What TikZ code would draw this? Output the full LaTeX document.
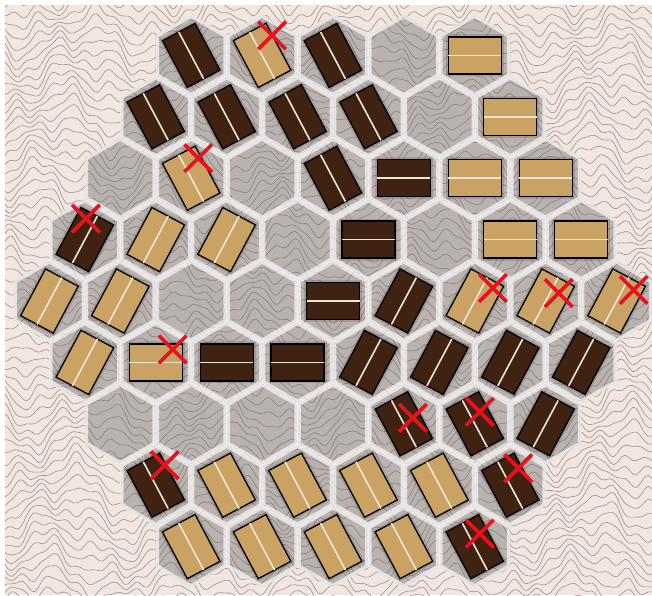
\documentclass[tikz,border=0pt]{standalone}
\usepackage{tikz}
\usetikzlibrary{shapes.geometric, shapes.misc, calc}
\definecolor{BoardPaper}{HTML}{F3E5E0}
\definecolor{BoardContour}{HTML}{9A9593}
\definecolor{CellShade}{HTML}{6C6C6C}
\definecolor{TileDark}{HTML}{3F2211}
\definecolor{TileTan}{HTML}{C9A264}
\definecolor{TileLine}{HTML}{EFE6D6}
\definecolor{HitRed}{HTML}{E8121E}
\tikzset{
    % Contour line of the paper
    contour/.style={
        draw=BoardContour,
        line width=0.6pt,
        line join=round
    },
    % Hex cell style
    cell/.style={
        regular polygon,
        regular polygon sides=6,
        rotate=30,
        minimum size=81.9pt,
        inner sep=0pt,
        fill=CellShade,
        fill opacity=0.42
    },
    % Gap between cells
    cellgap/.style={
        draw=white,
        draw opacity=0.66,
        line width=7pt,
        line join=miter
    },
    % Tile base
    tile/.style={
        rectangle,
        minimum width=53pt,
        minimum height=37pt,
        inner sep=0pt,
        draw=black,
        line width=1.3pt,
        preaction={draw=black, draw opacity=0.12, line width=5pt}
    },
    darktile/.style={tile, fill=TileDark},
    tantile/.style={tile, fill=TileTan},
    % Line along the tile
    divider/.style={
        draw=TileLine,
        line width=1.6pt,
        shorten >=0.65pt,
        shorten <=0.65pt
    },
    % Red cross on a tile
    hitmark/.style={
        cross out,
        draw=HitRed,
        line width=3.6pt,
        minimum size=24pt,
        inner sep=0pt
    }
}
\begin{document}
\begin{tikzpicture}[x=1pt, y=-1pt]
    \useasboundingbox (0,0) rectangle (652,595);
    \fill[white] (0,0) rectangle (652,595);
    \fill[BoardPaper] (5,5) rectangle (652,595);

    % Contour texture
    \begin{scope}
        \clip (5,5) rectangle (652,595);
        \foreach \yo in {-40,-31,...,640}
            \draw[contour] plot[domain=0:656, samples=170, smooth]
                (\x, {\yo + 10*sin(2.7*\x + 0.9*\yo) + 6.5*sin(6.3*\x - 2.1*\yo + 50)
                      + 3.5*sin(12.5*\x + 2.9*\yo + 110) + 2*sin(19*\x - 4*\yo)});
    \end{scope}

    % Board cells
    \foreach \r in {0,...,8}{
        \pgfmathtruncatemacro\last{8-abs(\r-4)}
        \foreach \c in {0,...,\last}{
            \pgfmathsetmacro\hx{333+(\c-\last/2)*70.9}
            \pgfmathsetmacro\hy{301+(\r-4)*61.4}
            \node[cell] (h-\r-\c) at (\hx,\hy) {};
        }
    }

    % Gaps between cells, kept inside each cell
    \foreach \r in {0,...,8}{
        \pgfmathtruncatemacro\last{8-abs(\r-4)}
        \foreach \c in {0,...,\last}{
            \begin{scope}
                \clip (h-\r-\c.corner 1) -- (h-\r-\c.corner 2) -- (h-\r-\c.corner 3)
                    -- (h-\r-\c.corner 4) -- (h-\r-\c.corner 5) -- (h-\r-\c.corner 6) -- cycle;
                \draw[cellgap] (h-\r-\c.corner 1) -- (h-\r-\c.corner 2) -- (h-\r-\c.corner 3)
                    -- (h-\r-\c.corner 4) -- (h-\r-\c.corner 5) -- (h-\r-\c.corner 6) -- cycle;
            \end{scope}
        }
    }

    % Tiles
    \foreach \r/\c/\kind/\ang in {
        0/0/darktile/-62, 0/1/tantile/-62, 0/2/darktile/-62, 0/4/tantile/0,
        1/0/darktile/-62, 1/1/darktile/-62, 1/2/darktile/-62, 1/3/darktile/-62, 1/5/tantile/0,
        2/1/tantile/-62, 2/3/darktile/-62, 2/4/darktile/0, 2/5/tantile/0, 2/6/tantile/0,
        3/0/darktile/62, 3/1/tantile/62, 3/2/tantile/62, 3/4/darktile/0, 3/6/tantile/0, 3/7/tantile/0,
        4/0/tantile/62, 4/1/tantile/62, 4/4/darktile/0, 4/5/darktile/62, 4/6/tantile/62,
        4/7/tantile/62, 4/8/tantile/62,
        5/0/tantile/62, 5/1/tantile/0, 5/2/darktile/0, 5/3/darktile/0, 5/4/darktile/62,
        5/5/darktile/62, 5/6/darktile/62, 5/7/darktile/62,
        6/4/darktile/-62, 6/5/darktile/-62, 6/6/darktile/62,
        7/0/darktile/-62, 7/1/tantile/-62, 7/2/tantile/-62, 7/3/tantile/-62, 7/4/tantile/-62,
        7/5/darktile/-62,
        8/0/tantile/-62, 8/1/tantile/-62, 8/2/tantile/-62, 8/3/tantile/-62, 8/4/darktile/-62}{
        \node[\kind, rotate=\ang] (t-\r-\c) at (h-\r-\c) {};
        \draw[divider] (t-\r-\c.west) -- (t-\r-\c.east);
    }

    % Hit marks
    \foreach \r/\c/\dx/\dy in {0/1/10/-20, 2/1/7/-20, 3/0/1/-21, 4/6/18/-13, 4/7/13/-8,
        4/8/17/-11, 5/1/17/-13, 6/4/9/-6, 6/5/5/-12, 7/0/9/-20, 7/5/8/-17, 8/4/5/-13}
        \node[hitmark] (x-\r-\c) at ($(t-\r-\c)+(\dx,\dy)$) {};
\end{tikzpicture}
\end{document}
